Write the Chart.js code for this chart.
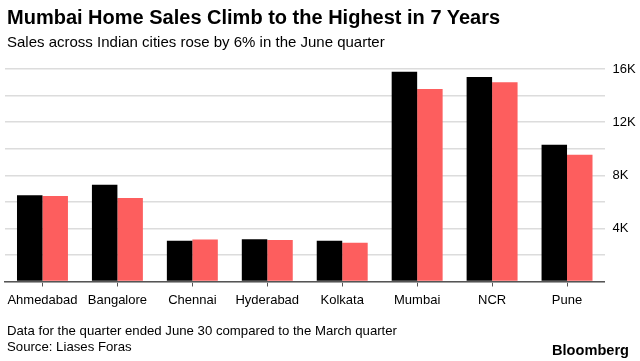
<!DOCTYPE html>
<html>
<head>
<meta charset="utf-8">
<script src="https://cdn.jsdelivr.net/npm/chart.js@4.4.0/dist/chart.umd.min.js"></script>
<style>
  html, body { margin: 0; padding: 0; background: #fff; }
  #wrap { position: relative; width: 640px; height: 361px; overflow: hidden; font-family: "Liberation Sans", Arial, sans-serif; color: #000; }
  #c { position: absolute; left: 0; top: 0; }
  .t { position: absolute; white-space: nowrap; }
  #title { left: 7px; top: 6px; font-family: "Liberation Sans Narrow", "Liberation Sans", sans-serif; font-weight: bold; font-size: 20px; }
  #sub { left: 7px; top: 33px; font-family: "Liberation Sans Narrow", "Liberation Sans", sans-serif; font-size: 15px; }
  #note { left: 7px; top: 323px; font-size: 13.2px; line-height: 16px; }
  #logo { left: 552px; top: 342px; font-weight: bold; font-size: 14.6px; }
</style>
</head>
<body>
<div id="wrap">
  <canvas id="c" width="640" height="361"></canvas>
  <div class="t" id="title">Mumbai Home Sales Climb to the Highest in 7 Years</div>
  <div class="t" id="sub">Sales across Indian cities rose by 6% in the June quarter</div>
  <div class="t" id="note">Data for the quarter ended June 30 compared to the March quarter<br>Source: Liases Foras</div>
  <div class="t" id="logo">Bloomberg</div>
</div>
<script>
const categories = ["Ahmedabad", "Bangalore", "Chennai", "Hyderabad", "Kolkata", "Mumbai", "NCR", "Pune"];
const juneQuarter = [6490, 7290, 3070, 3190, 3070, 15800, 15400, 10300];
const marchQuarter = [6440, 6290, 3170, 3120, 2920, 14490, 15000, 9550];
const yMax = 16000;
const yStep = 2000;
const labelStep = 4000;

new Chart(document.getElementById('c'), {
  type: 'bar',
  data: {
    labels: categories,
    datasets: [
      { label: 'June quarter', data: juneQuarter, backgroundColor: '#000000', borderWidth: 0 },
      { label: 'March quarter', data: marchQuarter, backgroundColor: '#fd5e5e', borderWidth: 0 }
    ]
  },
  options: {
    responsive: false,
    animation: false,
    events: [],
    layout: { padding: { left: 5, right: 0, top: 69, bottom: 0 } },
    plugins: { legend: { display: false }, title: { display: false }, tooltip: { enabled: false } },
    datasets: { bar: { categoryPercentage: 0.68, barPercentage: 1.0 } },
    scales: {
      x: {
        afterFit: s => { s.height = 361 - 69 - 212.5; },
        grid: { drawOnChartArea: false, drawTicks: true, tickLength: 5, color: '#555', lineWidth: 1, offset: false },
        border: { display: true, color: '#555', width: 1.5 },
        ticks: { color: '#000', padding: 6, font: { family: 'Liberation Sans', size: 13 }, autoSkip: false, maxRotation: 0 }
      },
      y: {
        position: 'right',
        min: 0,
        max: yMax,
        afterFit: s => { s.width = 35.5; },
        grid: { color: '#dcdcdc', lineWidth: 1.5, drawTicks: false },
        border: { display: false },
        ticks: {
          stepSize: yStep,
          padding: 8,
          color: '#000',
          font: { family: 'Liberation Sans', size: 13 },
          callback: v => (v > 0 && v % labelStep === 0) ? (v / 1000) + 'K' : ''
        }
      }
    }
  }
});
</script>
</body>
</html>
